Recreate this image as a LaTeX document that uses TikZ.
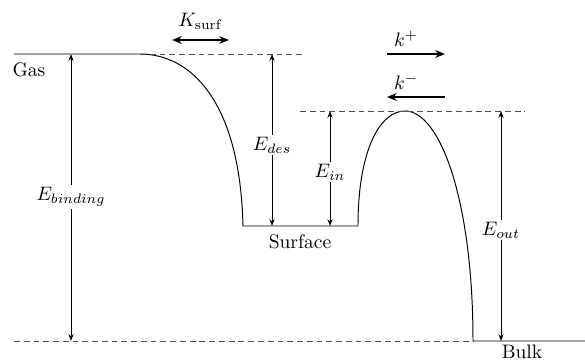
\documentclass[tikz,border=0pt]{standalone}
\usepackage{amsmath}
\usepackage{tikz}
\usetikzlibrary{arrows.meta,calc}

\tikzset{
    level/.style={draw=black, line width=0.5pt},
    guide/.style={draw=black!70, dash pattern=on 3pt off 2pt, line width=0.4pt},
    energy/.style={-{Stealth[length=3.5pt,width=2.6pt]}, line width=0.4pt},
    rate/.style={thick, -{Stealth[length=5pt,width=4pt]}},
    lbl/.style={inner sep=1pt}
}

\begin{document}
\begin{tikzpicture}[x=0.018cm, y=-0.018cm]
    \useasboundingbox (0,0) rectangle (585,362);

    % levels
    \coordinate (gasL) at (14,54);
    \coordinate (gasR) at (140,54);
    \coordinate (surfL) at (243,226);
    \coordinate (surfR) at (358,226);
    \coordinate (peak) at (405,111);
    \coordinate (bulkL) at (473,341);
    \coordinate (bulkR) at (585,341);

    % potential curve
    \draw[level] (gasL) -- (gasR)
        .. controls (190,54) and (240,100) .. (surfL) -- (surfR)
        .. controls (358,150) and (380,111) .. (peak)
        .. controls (440,111) and (473,200) .. (bulkL) -- (bulkR);

    % reference lines
    \draw[guide] (gasR) -- (305,54);
    \draw[guide] (300,111) -- (525,111);
    \draw[guide] (14,341) -- (bulkL);

    \node[lbl] (gas) at (29,70) {Gas};
    \node[lbl] (surface) at (300,242) {Surface};
    \node[lbl] (bulk) at (522,352) {Bulk};

    % energies
    \node[lbl] (Ebind) at (71,197) {$E_{binding}$};
    \node[lbl] (Edes) at (272,145) {$E_{des}$};
    \node[lbl] (Ein) at (330,172) {$E_{in}$};
    \node[lbl] (Eout) at (501,230) {$E_{out}$};

    \draw[energy] (Ebind) -- (71,54);
    \draw[energy] (Ebind) -- (71,341);
    \draw[energy] (Edes) -- (272,54);
    \draw[energy] (Edes) -- (272,226);
    \draw[energy] (Ein) -- (330,111);
    \draw[energy] (Ein) -- (330,226);
    \draw[energy] (Eout) -- (501,111);
    \draw[energy] (Eout) -- (501,341);

    % rates
    \coordinate (ksL) at (172,40);
    \coordinate (ksR) at (229,40);
    \draw[rate, {Stealth[length=5pt,width=4pt]}-{Stealth[length=5pt,width=4pt]}] (ksL) -- (ksR);
    \node[lbl] (Ksurf) at (200,21) {$K_{\text{surf}}$};

    \coordinate (kpL) at (387,54);
    \coordinate (kpR) at (445,54);
    \draw[rate] (kpL) -- (kpR);
    \node[lbl] (kplus) at (406,39) {$k^{+}$};

    \coordinate (kmL) at (387,97);
    \coordinate (kmR) at (445,97);
    \draw[rate] (kmR) -- (kmL);
    \node[lbl] (kminus) at (406,82) {$k^{-}$};
\end{tikzpicture}
\end{document}
